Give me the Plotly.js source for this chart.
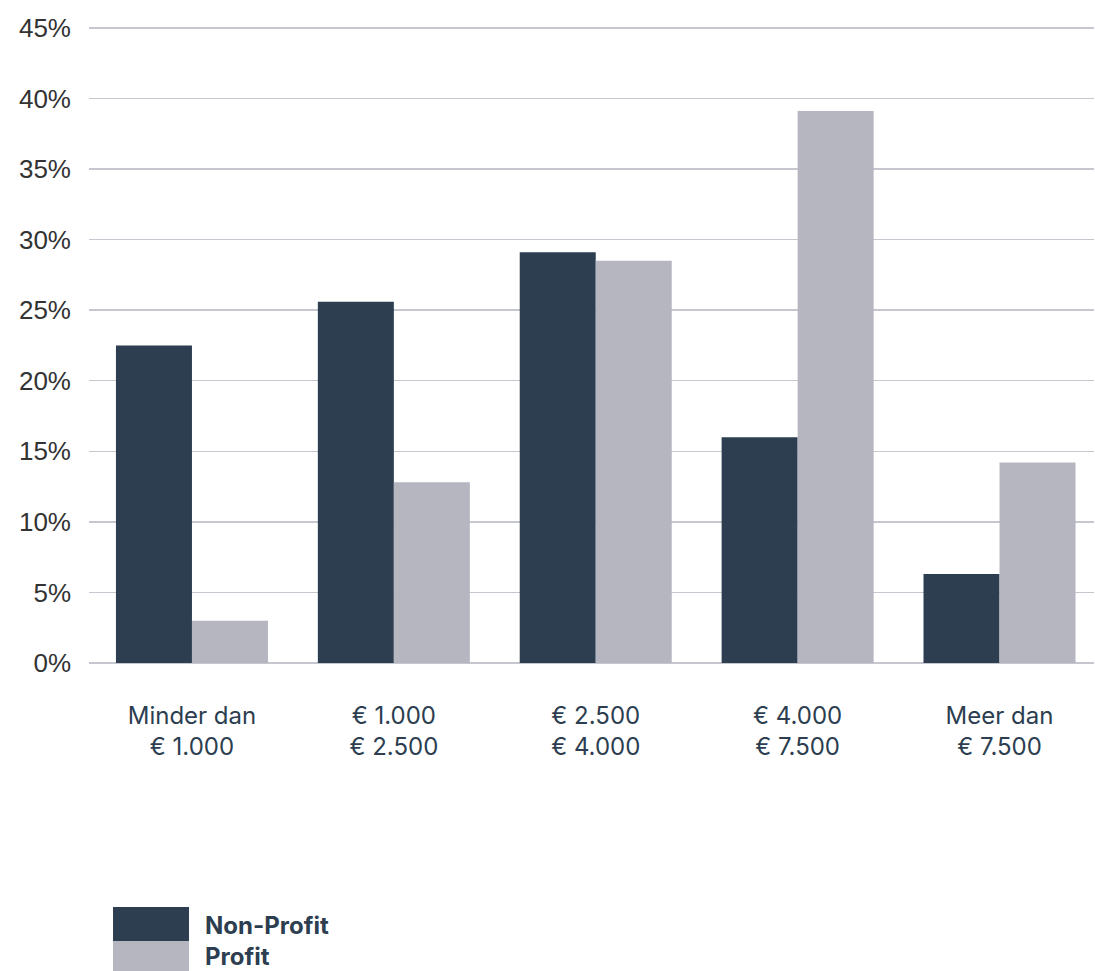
<!DOCTYPE html>
<html>
<head>
<meta charset="utf-8">
<script src="https://cdn.plot.ly/plotly-3.0.1.min.js"></script>
<style>
  html, body { margin: 0; padding: 0; background: #ffffff; }
  #chart { width: 1095px; height: 971px; }
</style>
</head>
<body>
<div id="chart"></div>
<script>
// Salary brackets (two-line tick labels)
const categories = [
  'Minder dan<br>€ 1.000',
  '€ 1.000<br>€ 2.500',
  '€ 2.500<br>€ 4.000',
  '€ 4.000<br>€ 7.500',
  'Meer dan<br>€ 7.500'
];

// Share of respondents per bracket, in percent
const nonProfitValues = [22.5, 25.6, 29.1, 16.0, 6.3];
const profitValues    = [3.0, 12.8, 28.5, 39.1, 14.2];

const seriesNames = ['Non-Profit', 'Profit'];
const yTickValues = [0, 5, 10, 15, 20, 25, 30, 35, 40, 45];
const yTickLabels = yTickValues.map(v => v + '%');

const navy = '#2c3e50';
const grey = '#b6b6c0';

const traces = [
  {
    type: 'bar',
    name: seriesNames[0],
    x: categories,
    y: nonProfitValues,
    marker: { color: navy, line: { width: 0 } },
    hoverinfo: 'x+y'
  },
  {
    type: 'bar',
    name: seriesNames[1],
    x: categories,
    y: profitValues,
    marker: { color: grey, line: { width: 0 } },
    hoverinfo: 'x+y'
  }
];

// Custom legend: wide colour blocks with bold labels beneath the chart
const legendFont = { family: 'Inter, Roboto, sans-serif', size: 24, color: navy };
const legendShapes = [
  { type: 'rect', xref: 'paper', yref: 'paper', x0: 0.0239, x1: 0.0995, y0: -0.3824, y1: -0.4357,
    fillcolor: navy, line: { width: 0 } },
  { type: 'rect', xref: 'paper', yref: 'paper', x0: 0.0239, x1: 0.0995, y0: -0.4357, y1: -0.4900,
    fillcolor: grey, line: { width: 0 } }
];
const legendLabels = [
  { text: '<b>' + seriesNames[0] + '</b>', xref: 'paper', yref: 'paper', x: 0.1135, y: -0.4122,
    xanchor: 'left', yanchor: 'middle', showarrow: false, font: legendFont },
  { text: '<b>' + seriesNames[1] + '</b>', xref: 'paper', yref: 'paper', x: 0.1135, y: -0.4608,
    xanchor: 'left', yanchor: 'middle', showarrow: false, font: legendFont }
];

const layout = {
  width: 1095,
  height: 971,
  margin: { l: 89, r: 1, t: 25, b: 308, pad: 0 },
  paper_bgcolor: '#ffffff',
  plot_bgcolor: '#ffffff',
  barmode: 'group',
  bargap: 0.247,
  bargroupgap: 0,
  showlegend: false,
  xaxis: {
    type: 'category',
    range: [-0.51, 4.468],
    showgrid: false,
    showline: false,
    zeroline: false,
    ticks: '',
    ticklabelstandoff: 36,
    tickfont: { family: 'Inter, Roboto, sans-serif', size: 24, color: navy }
  },
  yaxis: {
    range: [0, 45.2],
    tickvals: yTickValues,
    ticktext: yTickLabels,
    showgrid: true,
    gridcolor: '#c6c6ce',
    gridwidth: 1.5,
    zeroline: true,
    zerolinecolor: '#c6c6ce',
    zerolinewidth: 1.5,
    showline: false,
    ticks: '',
    ticklabelstandoff: 17,
    tickfont: { family: '"Liberation Sans", Arial, sans-serif', size: 26, color: '#333333' }
  },
  shapes: legendShapes,
  annotations: legendLabels
};

Plotly.newPlot('chart', traces, layout, { displayModeBar: false, staticPlot: true });
</script>
</body>
</html>
